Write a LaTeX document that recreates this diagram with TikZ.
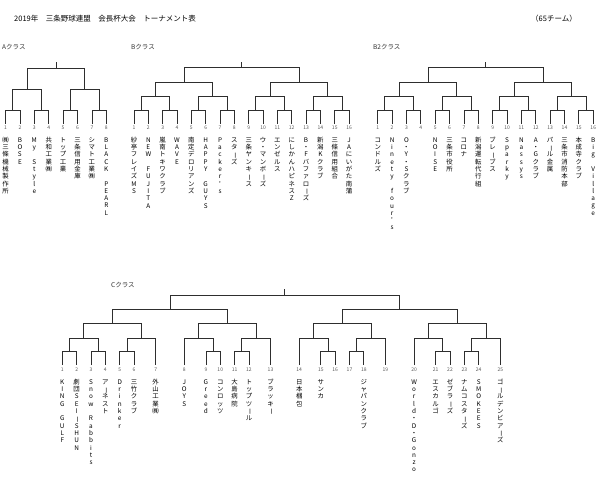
\documentclass[tikz,border=0pt]{standalone}
\usepackage{fontspec}
\usepackage{graphicx}
\usetikzlibrary{calc}
\newfontfamily\jp{Noto Sans CJK JP}
\ExplSyntaxOn
\cs_new:Npn \rk_vchar:n #1
  {
    \hbox_to_wd:nn {8pt}
      {
        \hss
        \raisebox{0pt}[6.1pt][1.2pt]
          {
            \str_case:nnF {#1}
              {
                {*} { }
                {ー} { \rotatebox[origin=c]{-90}{ー} }
              }
              {#1}
          }
        \hss
      }
  }
\NewDocumentCommand \vtext { m }
  {
    \vbox:n
      {
        \offinterlineskip
        \exp_args:No \tl_map_function:nN {#1} \rk_vchar:n
      }
  }
\ExplSyntaxOff
\tikzset{
  br/.style={draw=black!82, line width=0.8pt},
  num/.style={font=\jp\fontsize{5}{6}\selectfont, text=black!65, inner sep=0},
  team/.style={anchor=north, inner sep=0, font=\jp\fontsize{6.4}{7}\selectfont},
  cls/.style={anchor=west, inner sep=0, font=\jp\fontsize{6.5}{8}\selectfont, text=black!80},
  ttl/.style={inner sep=0, font=\jp\fontsize{7.5}{9}\selectfont},
}
\newcommand\bmatch[4]{%
  \coordinate (yb) at (0,#3);
  \draw[br] (#1) -- (#1 |- yb) -- (#2 |- yb) -- (#2);
  \coordinate (#4) at ($(#1 |- yb)!.5!(#2 |- yb)$);
}
\newcommand\sixteen[1]{%
  \foreach \i in {1,...,8}{%
    \pgfmathtruncatemacro\a{2*\i-1}\pgfmathtruncatemacro\b{2*\i}%
    \bmatch{#1L\a}{#1L\b}{110}{#1P\i}}
  \foreach \i in {1,...,4}{%
    \pgfmathtruncatemacro\a{2*\i-1}\pgfmathtruncatemacro\b{2*\i}%
    \bmatch{#1P\a}{#1P\b}{96.5}{#1Q\i}}
  \foreach \i in {1,2}{%
    \pgfmathtruncatemacro\a{2*\i-1}\pgfmathtruncatemacro\b{2*\i}%
    \bmatch{#1Q\a}{#1Q\b}{82}{#1R\i}}
  \bmatch{#1R1}{#1R2}{67.5}{#1F}
  \coordinate (ty) at (0,61.7);
  \coordinate (#1T) at (#1F |- ty);
  \draw[br] (#1F) -- (#1T);
}
\begin{document}
\begin{tikzpicture}[x=1pt,y=-1pt]
\fill[white] (0,0) rectangle (600,500);
\useasboundingbox (0,0) rectangle (600,500);

% titles
\node[ttl,anchor=west] (title) at (14,19) {2019年　三条野球連盟　会長杯大会　トーナメント表};
\node[ttl,anchor=east] (count) at (577,19) {（65チーム）};
\node[cls] (Alab) at (2,47) {Aクラス};
\node[cls] (Blab) at (131,47) {Bクラス};
\node[cls] (Dlab) at (373,47) {B2クラス};
\node[cls] (Clab) at (111,285) {Cクラス};

% A class
\foreach \i/\n in {1/{㈱三條機械製作所},2/BOSE,3/{My*Style},4/{共和工業㈱},
  5/{トップ工業},6/{三条信用金庫},7/{シマト工業㈱},8/{BLACK*PEARL}}{
  \pgfmathsetmacro\x{5.5+(\i-1)*14.4}
  \coordinate (AL\i) at (\x,124);
  \node[num] (AN\i) at (\x,128) {\i};
  \node[team] (AT\i) at (\x,136) {\vtext{\n}};
}
\bmatch{AL1}{AL2}{110}{AP1}
\bmatch{AL3}{AL4}{110}{AP2}
\bmatch{AL5}{AL6}{110}{AP3}
\bmatch{AL7}{AL8}{110}{AP4}
\bmatch{AP1}{AP2}{89}{AQ1}
\bmatch{AP3}{AP4}{89}{AQ2}
\bmatch{AQ1}{AQ2}{68}{AF}
\coordinate (ty) at (0,61.7);
\coordinate (AT) at (AF |- ty);
\draw[br] (AF) -- (AT);

% B class
\foreach \i/\n in {1/{紗亭フレイズMS},2/{NEW*FUJITA},3/{嵐南トキワクラブ},4/WAVE,
  5/{南定デロリアンズ},6/{HAPPY*GUYS},7/{Packer's},8/{スターズ},
  9/{三条ヤンキース},10/{ウ・マンボーズ},11/{エンゼルス},12/{にしかんハピネスZ},
  13/{B・Fバファローズ},14/{新潟Kクラブ},15/{三條信用組合},16/{JAにいがた南蒲}}{
  \pgfmathsetmacro\x{134+(\i-1)*14.34}
  \coordinate (BL\i) at (\x,124);
  \node[num] (BN\i) at (\x,128) {\i};
  \node[team] (BT\i) at (\x,136) {\vtext{\n}};
}
\sixteen{B}

% B2 class
\foreach \i/\n in {1/{コンドルズ},2/{Ninety*four's},3/{O・Y・Sクラブ},4/{},
  5/NOISE,6/{三条市役所},7/{コロナ},8/{新潟運転代行組},
  9/{ブレーブス},10/Sparky,11/Nassys,12/{A・Gクラブ},
  13/{パール金属},14/{三条市消防本部},15/{本成寺クラブ},16/{Big*Village}}{
  \pgfmathsetmacro\x{377.7+(\i-1)*14.37}
  \coordinate (DL\i) at (\x,124);
  \node[num] (DN\i) at (\x,128) {\i};
  \node[team] (DT\i) at (\x,136) {\vtext{\n}};
}
\sixteen{D}

% C class
\foreach \i/\k/\n in {1/0/{KING*GULF},2/2/{劇団SEIーSHUN},3/4/{Snow*Rabbits},4/6/{アーネスト},
  5/8/Drinker,6/10/{三竹クラブ},7/13/{外山工業㈱},8/17/JOYS,9/20/Greed,
  10/22/{コンロッツ},11/24/{大島病院},12/26/{トップツール},13/29/{ブラッキー},
  14/33/{日本梱包},15/36/{サンカ},16/38/{},17/40/{},18/42/{ジャパンクラブ},19/45/{},
  20/49/{World・D・Gonzo},21/52/{エスカルゴ},22/54/{ゼブラーズ},23/56/{ナムコスターズ},
  24/58/SMOKEES,25/61/{ゴールデンビアーズ}}{
  \pgfmathsetmacro\x{62.3+\k*7.18}
  \coordinate (CL\i) at (\x,365);
  \node[num] (CN\i) at (\x,369.5) {\i};
  \node[team] (CT\i) at (\x,378) {\vtext{\n}};
}
\bmatch{CL1}{CL2}{351.7}{Ca}
\bmatch{CL3}{CL4}{351.7}{Cb}
\bmatch{CL5}{CL6}{351.7}{Cc}
\bmatch{CL9}{CL10}{351.7}{Cd}
\bmatch{CL11}{CL12}{351.7}{Ce}
\bmatch{CL15}{CL16}{351.7}{Cf}
\bmatch{CL17}{CL18}{351.7}{Cg}
\bmatch{CL21}{CL22}{351.7}{Ch}
\bmatch{CL23}{CL24}{351.7}{Ci}
\bmatch{Ca}{Cb}{338.3}{Cq1a}
\bmatch{Cc}{CL7}{338.3}{Cq1b}
\bmatch{CL8}{Cd}{338.3}{Cq2a}
\bmatch{Ce}{CL13}{338.3}{Cq2b}
\bmatch{CL14}{Cf}{338.3}{Cq3a}
\bmatch{Cg}{CL19}{338.3}{Cq3b}
\bmatch{CL20}{Ch}{338.3}{Cq4a}
\bmatch{Ci}{CL25}{338.3}{Cq4b}
\bmatch{Cq1a}{Cq1b}{323.3}{Cq1}
\bmatch{Cq2a}{Cq2b}{323.3}{Cq2}
\bmatch{Cq3a}{Cq3b}{323.3}{Cq3}
\bmatch{Cq4a}{Cq4b}{323.3}{Cq4}
\bmatch{Cq1}{Cq2}{309.3}{Ch1}
\bmatch{Cq3}{Cq4}{309.3}{Ch2}
\bmatch{Ch1}{Ch2}{295}{CF}
\coordinate (cty) at (0,289.3);
\coordinate (CT) at (CF |- cty);
\draw[br] (CF) -- (CT);
\end{tikzpicture}
\end{document}
